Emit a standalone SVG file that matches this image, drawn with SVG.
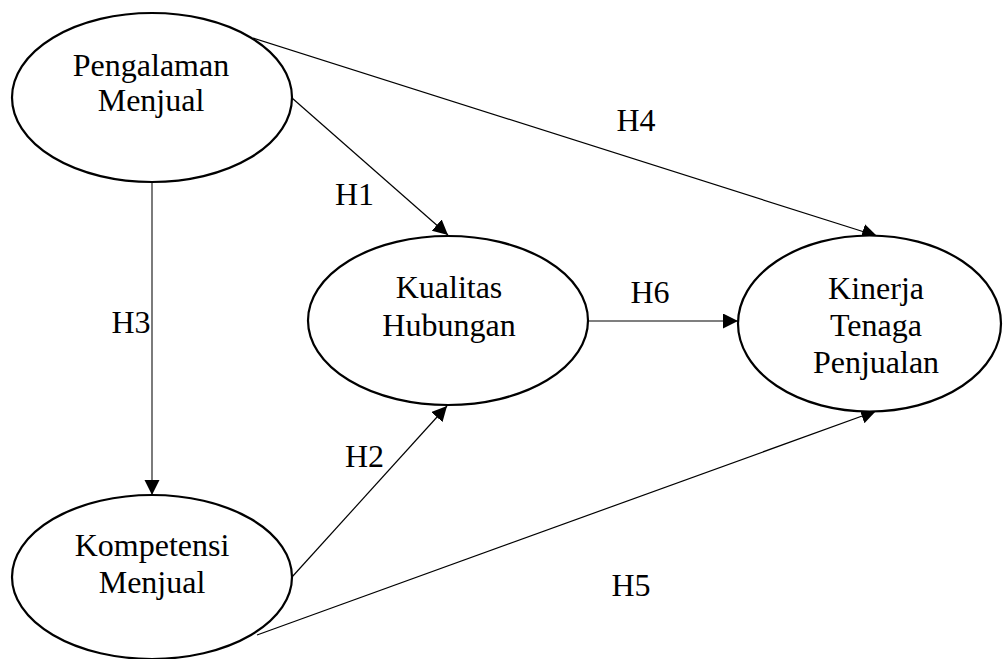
<svg xmlns="http://www.w3.org/2000/svg" width="1003" height="659" viewBox="0 0 1003 659">
<style>
.node ellipse{fill:#fff;stroke:#000;stroke-width:2.2}
text{font-family:"Liberation Serif","Times New Roman",serif;font-size:32px;fill:#000;text-anchor:middle}
.edges line{stroke:#000;stroke-width:1.2;fill:none}
.edges line.v{stroke:#444;stroke-width:1.4}
</style>
<defs>
<marker id="arr" markerUnits="userSpaceOnUse" markerWidth="16" markerHeight="16" refX="15" refY="7.5" orient="auto">
<path d="M0,0 L15,7.5 L0,15 z" fill="#000"/>
</marker>
</defs>
<rect width="1003" height="659" fill="#fff"/>
<g class="edges">
<line x1="253" y1="38" x2="877" y2="236" marker-end="url(#arr)"/>
<line x1="292" y1="98" x2="448" y2="235" marker-end="url(#arr)"/>
<line class="v" x1="152" y1="182" x2="152" y2="495" marker-end="url(#arr)"/>
<line x1="588" y1="321" x2="738" y2="321" marker-end="url(#arr)"/>
<line x1="292" y1="577" x2="447" y2="406" marker-end="url(#arr)"/>
<line x1="257" y1="635" x2="876" y2="411" marker-end="url(#arr)"/>
</g>
<g id="pengalaman" class="node">
<ellipse cx="152" cy="97.5" rx="140" ry="84.5"/>
<text x="151" y="76">Pengalaman</text>
<text x="151" y="111">Menjual</text>
</g>
<g id="kualitas" class="node">
<ellipse cx="448" cy="320.5" rx="140" ry="84.5"/>
<text x="449" y="298">Kualitas</text>
<text x="449" y="336">Hubungan</text>
</g>
<g id="kinerja" class="node">
<ellipse cx="869.5" cy="323.5" rx="131.5" ry="88"/>
<text x="876" y="299">Kinerja</text>
<text x="876" y="336">Tenaga</text>
<text x="876" y="373">Penjualan</text>
</g>
<g id="kompetensi" class="node">
<ellipse cx="152" cy="577" rx="140" ry="82"/>
<text x="152" y="556">Kompetensi</text>
<text x="152" y="593">Menjual</text>
</g>
<g id="labels">
<text x="636" y="131">H4</text>
<text x="354.5" y="205">H1</text>
<text x="131" y="333">H3</text>
<text x="364.5" y="467">H2</text>
<text x="650" y="303">H6</text>
<text x="631" y="596">H5</text>
</g>
</svg>
